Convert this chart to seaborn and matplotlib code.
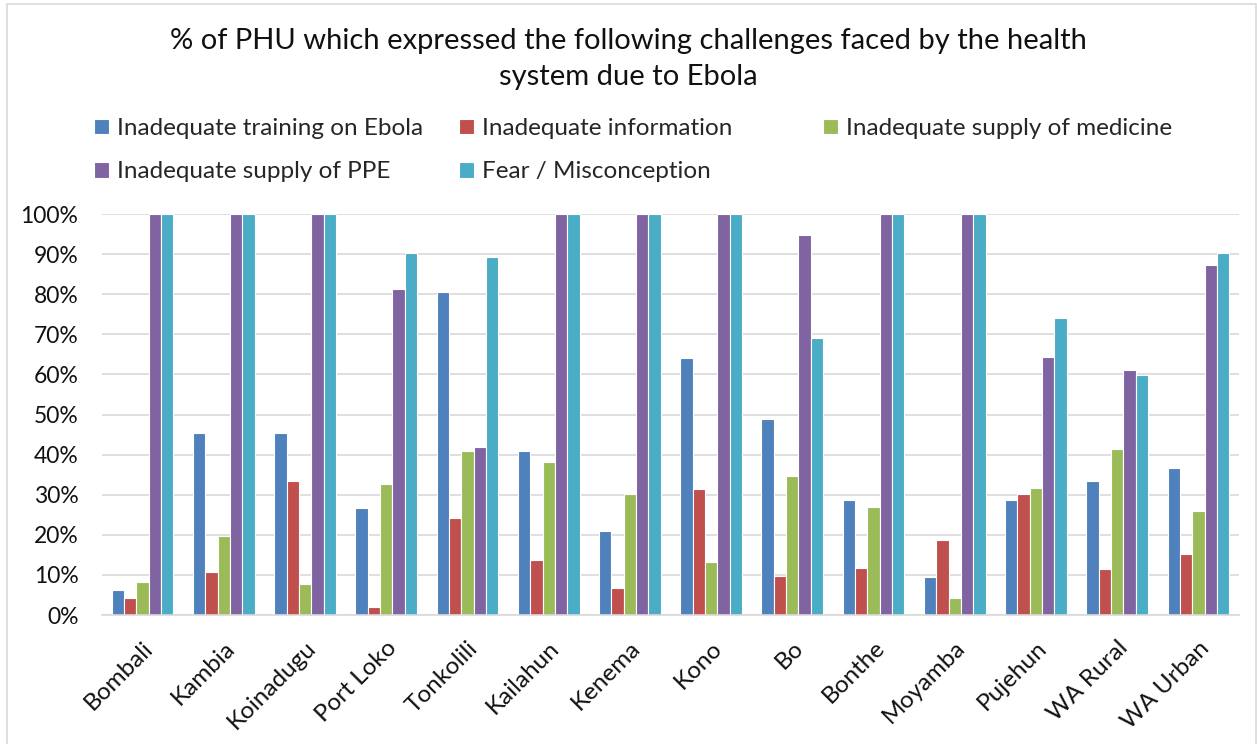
import matplotlib
matplotlib.use("Agg")
import matplotlib.pyplot as plt
from matplotlib.patches import Rectangle
from matplotlib.ticker import PercentFormatter, MultipleLocator
import seaborn as sns
import pandas as pd

districts = ["Bombali", "Kambia", "Koinadugu", "Port Loko", "Tonkolili", "Kailahun",
             "Kenema", "Kono", "Bo", "Bonthe", "Moyamba", "Pujehun", "WA Rural", "WA Urban"]

training = [6.2, 45.3, 45.3, 26.8, 80.6, 40.8, 21.0, 64.0, 48.8, 28.8, 9.4, 28.8, 33.4, 36.6]
information = [4.2, 10.6, 33.4, 2.0, 24.1, 13.6, 6.7, 31.4, 9.8, 11.6, 18.8, 30.2, 11.4, 15.2]
medicine = [8.2, 19.6, 7.7, 32.6, 40.8, 38.2, 30.2, 13.2, 34.6, 27.0, 4.2, 31.6, 41.4, 26.0]
ppe = [100, 100, 100, 81.2, 41.8, 100, 100, 100, 94.8, 100, 100, 64.4, 61.0, 87.4]
fear = [100, 100, 100, 90.2, 89.4, 100, 100, 100, 69.1, 100, 100, 74.0, 59.8, 90.3]

series_names = ["Inadequate training on Ebola", "Inadequate information",
                "Inadequate supply of medicine", "Inadequate supply of PPE",
                "Fear / Misconception"]
series_values = [training, information, medicine, ppe, fear]
colors = ["#4F81BD", "#C0504D", "#9BBB59", "#8064A2", "#4BACC6"]

rows = []
for name, vals in zip(series_names, series_values):
    for d, v in zip(districts, vals):
        rows.append({"District": d, "Challenge": name, "Percent": v})
df = pd.DataFrame(rows)

sns.set_theme(style="white")
plt.rcParams["font.family"] = ["Lato", "DejaVu Sans"]

fig = plt.figure(figsize=(12.57, 7.44), dpi=100)
ax = fig.add_axes([102 / 1257, 1 - 615 / 744, (1239 - 102) / 1257, (615 - 214) / 744])

sns.barplot(data=df, x="District", y="Percent", hue="Challenge",
            hue_order=series_names, order=districts, palette=colors,
            width=0.76, edgecolor="white", linewidth=0.8, ax=ax, saturation=1)

ax.set_ylim(0, 100)
ax.set_xlim(-0.5, len(districts) - 0.5)
ax.yaxis.set_major_locator(MultipleLocator(10))
ax.yaxis.set_major_formatter(PercentFormatter(decimals=0))
ax.grid(axis="y", color="#D9D9D9", linewidth=1.2)
ax.set_axisbelow(True)
for side in ["left", "right", "top"]:
    ax.spines[side].set_visible(False)
ax.spines["bottom"].set_color("#D9D9D9")
ax.spines["bottom"].set_linewidth(1.2)
ax.tick_params(axis="both", length=0, colors="#111111")
ax.tick_params(axis="y", labelsize=16.5, pad=17)
ax.tick_params(axis="x", labelsize=17.5, pad=16)
ax.set_xlabel("")
ax.set_ylabel("")
plt.setp(ax.get_xticklabels(), rotation=45, ha="right", rotation_mode="anchor")

handles, labels = ax.get_legend_handles_labels()
ax.get_legend().remove()

# Three legend columns at fixed positions: row 1 holds the first three series
columns = [[0, 3], [1, 4], [2]]
col_x = [94 / 1257, 459 / 1257, 823 / 1257]
for xpos, idx in zip(col_x, columns):
    fig.legend([handles[i] for i in idx], [labels[i] for i in idx],
               loc="upper left", bbox_to_anchor=(xpos, 1 - 118 / 744),
               frameon=False, fontsize=17.5, handlelength=0.62, handleheight=0.62,
               handletextpad=0.33, labelspacing=0.92, borderaxespad=0, borderpad=0)

fig.text(0.5, 1 - 59 / 744,
         "% of PHU which expressed the following challenges faced by the health\nsystem due to Ebola",
         ha="center", va="center", fontsize=21, color="#111111", linespacing=1.5)

# Chart frame
fig.patches.append(Rectangle((7 / 1257, -0.05), (1256 - 7) / 1257, 1.05 - 4 / 744,
                             transform=fig.transFigure, fill=False,
                             edgecolor="#D9D9D9", linewidth=1.2))

fig.savefig("out.png", dpi=100)
